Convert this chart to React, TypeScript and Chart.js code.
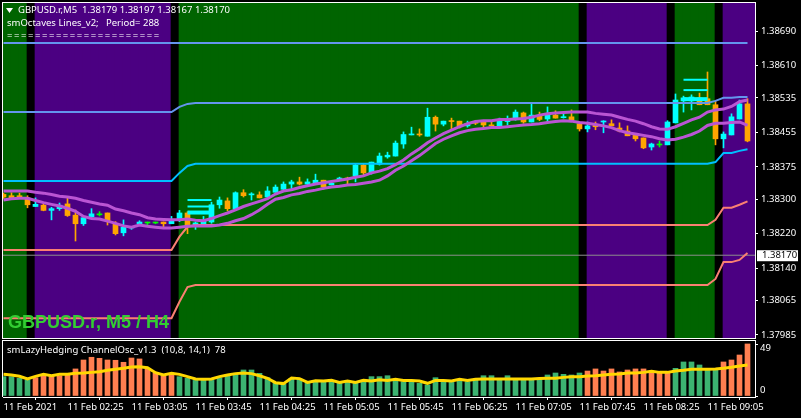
import { useEffect, useRef } from 'react';
import { Chart, registerables } from 'chart.js';

Chart.register(...registerables);

const FONT = '"Noto Sans"';
const FONT_SIZE = 9.5;

// all prices are in points above 1.38000
const opens = [
  311, 308, 308, 303, 283, 286, 274, 278, 289, 263,
  243, 259, 266, 268, 243, 222, 233, 243, 247, 247,
  247, 243, 252, 268, 240, 243, 247, 287, 296, 278,
  315, 310, 310, 305, 316, 323, 335, 340, 335, 335,
  344, 333, 344, 349, 354, 379, 361, 381, 398, 400,
  428, 449, 450, 446, 490, 474, 481, 481, 470, 479,
  479, 472, 470, 480, 488, 500, 479, 493, 486, 495,
  489, 491, 475, 463, 472, 479, 475, 465, 458, 449,
  442, 421, 428, 426, 477, 528, 528, 535, 533, 519,
  440, 449, 486, 521,
];
const highs = [
  314, 315, 314, 308, 303, 291, 281, 291, 302, 275,
  261, 278, 271, 268, 248, 252, 235, 250, 247, 247,
  247, 260, 274, 271, 247, 260, 293, 305, 303, 317,
  322, 315, 317, 329, 333, 340, 344, 351, 347, 358,
  344, 342, 351, 351, 381, 381, 386, 407, 409, 435,
  456, 467, 463, 511, 493, 481, 488, 481, 481, 483,
  483, 479, 488, 493, 507, 502, 521, 502, 514, 505,
  502, 507, 479, 479, 479, 482, 484, 477, 470, 449,
  442, 430, 435, 482, 544, 539, 542, 546, 595, 528,
  456, 498, 530, 533,
];
const lows = [
  302, 300, 302, 280, 283, 273, 252, 274, 260, 203,
  239, 256, 261, 240, 217, 215, 230, 240, 240, 243,
  235, 243, 248, 220, 230, 240, 244, 279, 273, 275,
  305, 298, 303, 302, 316, 319, 321, 333, 330, 335,
  323, 333, 344, 334, 340, 356, 358, 379, 395, 400,
  418, 449, 446, 446, 458, 470, 463, 465, 467, 473,
  465, 470, 470, 472, 483, 476, 479, 482, 479, 488,
  488, 482, 458, 456, 461, 454, 470, 456, 447, 435,
  417, 414, 421, 426, 477, 502, 507, 519, 519, 426,
  419, 449, 486, 433,
];
const closes = [
  305, 302, 304, 287, 288, 274, 278, 286, 262, 243,
  257, 266, 266, 250, 220, 235, 235, 247, 247, 247,
  243, 250, 268, 240, 245, 249, 287, 298, 278, 315,
  308, 311, 303, 319, 328, 335, 340, 335, 340, 344,
  328, 337, 349, 346, 379, 361, 386, 400, 402, 430,
  450, 450, 449, 490, 474, 481, 480, 470, 476, 476,
  472, 470, 483, 481, 502, 479, 495, 485, 495, 488,
  491, 484, 463, 470, 468, 481, 470, 458, 447, 440,
  419, 428, 428, 479, 530, 535, 537, 519, 519, 440,
  451, 491, 521, 435,
];

const upperBand = [
  319, 319, 319, 319, 316, 314, 311, 307, 305, 302,
  297, 293, 289, 286, 277, 273, 268, 264, 257, 254,
  253, 252, 252, 254, 251, 250, 255, 262, 268, 275,
  283, 289, 295, 301, 312, 319, 322, 327, 331, 335,
  338, 341, 344, 347, 351, 354, 361, 365, 371, 380,
  391, 405, 417, 431, 442, 452, 460, 468, 475, 480,
  482, 482, 485, 485, 486, 487, 490, 495, 498, 500,
  501, 502, 502, 502, 499, 497, 495, 490, 485, 481,
  475, 468, 463, 462, 468, 476, 484, 490, 502, 507,
  509, 515, 526, 530,
];
const lowerBand = [
  298, 301, 302, 302, 297, 292, 288, 284, 279, 272,
  260, 255, 254, 249, 244, 238, 235, 240, 237, 235,
  233, 233, 235, 237, 238, 238, 238, 240, 244, 250,
  255, 264, 275, 288, 300, 304, 310, 313, 318, 321,
  325, 328, 330, 333, 334, 337, 340, 344, 354, 367,
  377, 389, 401, 415, 429, 439, 447, 454, 459, 462,
  464, 466, 466, 468, 470, 472, 473, 475, 478, 480,
  482, 481, 478, 476, 473, 470, 466, 459, 454, 451,
  448, 445, 440, 437, 439, 444, 450, 458, 471, 476,
  476, 478, 479, 471,
];

const octaveTop = [
  662, 662, 662, 662, 662, 662, 662, 662, 662, 662,
  662, 662, 662, 662, 662, 662, 662, 662, 662, 662,
  662, 662, 662, 662, 662, 662, 662, 662, 662, 662,
  662, 662, 662, 662, 662, 662, 662, 662, 662, 662,
  662, 662, 662, 662, 662, 662, 662, 662, 662, 662,
  662, 662, 662, 662, 662, 662, 662, 662, 662, 662,
  662, 662, 662, 662, 662, 662, 662, 662, 662, 662,
  662, 662, 662, 662, 662, 662, 662, 662, 662, 662,
  662, 662, 662, 662, 662, 662, 662, 662, 662, 662,
  662, 662, 662, 662,
];
const octaveHigh = [
  502, 502, 502, 502, 502, 502, 502, 502, 502, 502,
  502, 502, 502, 502, 502, 502, 502, 502, 502, 502,
  502, 502, 514, 521, 523, 523, 523, 523, 523, 523,
  523, 523, 523, 523, 523, 523, 523, 523, 523, 523,
  523, 523, 523, 523, 523, 523, 523, 523, 523, 523,
  523, 523, 523, 523, 523, 523, 523, 523, 523, 523,
  523, 523, 523, 523, 523, 523, 523, 523, 523, 523,
  523, 523, 523, 523, 523, 523, 523, 523, 523, 523,
  523, 523, 523, 523, 523, 523, 523, 523, 523, 528,
  535, 535, 537, 537,
];
const octaveMid = [
  342, 342, 342, 342, 342, 342, 342, 342, 342, 342,
  342, 342, 342, 342, 342, 342, 342, 342, 342, 342,
  342, 342, 361, 377, 382, 382, 382, 382, 382, 382,
  382, 382, 382, 382, 382, 382, 382, 382, 382, 382,
  382, 382, 382, 382, 382, 382, 382, 382, 382, 382,
  382, 382, 382, 382, 382, 382, 382, 382, 382, 382,
  382, 382, 382, 382, 382, 382, 382, 382, 382, 382,
  382, 382, 382, 382, 382, 382, 382, 382, 382, 382,
  382, 382, 382, 382, 382, 382, 382, 382, 382, 386,
  407, 407, 412, 416,
];
const octaveLow = [
  182, 182, 182, 182, 182, 182, 182, 182, 182, 182,
  182, 182, 182, 182, 182, 182, 182, 182, 182, 182,
  182, 182, 213, 236, 240, 240, 240, 240, 240, 240,
  240, 240, 240, 240, 240, 240, 240, 240, 240, 240,
  240, 240, 240, 240, 240, 240, 240, 240, 240, 240,
  240, 240, 240, 240, 240, 240, 240, 240, 240, 240,
  240, 240, 240, 240, 240, 240, 240, 240, 240, 240,
  240, 240, 240, 240, 240, 240, 240, 240, 240, 240,
  240, 240, 240, 240, 240, 240, 240, 240, 240, 252,
  280, 280, 287, 295,
];
const octaveBottom = [
  24, 24, 24, 24, 24, 24, 24, 24, 24, 24,
  24, 24, 24, 24, 24, 24, 24, 24, 24, 24,
  24, 24, 62, 96, 101, 101, 101, 101, 101, 101,
  101, 101, 101, 101, 101, 101, 101, 101, 101, 101,
  101, 101, 101, 101, 101, 101, 101, 101, 101, 101,
  101, 101, 101, 101, 101, 101, 101, 101, 101, 101,
  101, 101, 101, 101, 101, 101, 101, 101, 101, 101,
  101, 101, 101, 101, 101, 101, 101, 101, 101, 101,
  101, 101, 101, 101, 101, 101, 101, 101, 101, 115,
  154, 154, 159, 175,
];

// 0 green, 1 black, 2 indigo
const zoneStates = [
  0, 0, 0, 1, 2, 2, 2, 2, 2, 2,
  2, 2, 2, 2, 2, 2, 2, 2, 2, 2,
  2, 1, 0, 0, 0, 0, 0, 0, 0, 0,
  0, 0, 0, 0, 0, 0, 0, 0, 0, 0,
  0, 0, 0, 0, 0, 0, 0, 0, 0, 0,
  0, 0, 0, 0, 0, 0, 0, 0, 0, 0,
  0, 0, 0, 0, 0, 0, 0, 0, 0, 0,
  0, 0, 1, 2, 2, 2, 2, 2, 2, 2,
  2, 2, 2, 1, 0, 0, 0, 0, 0, 1,
  2, 2, 2, 2,
];

// short cyan levels: [first bar, last bar, price, width]
const levelMarks = [
  [23, 26, 298, 2],
  [23, 26, 283, 2],
  [23, 26, 269, 4],
  [85, 88, 577, 2],
  [85, 88, 553, 2],
  [85, 88, 532, 4],
];

const oscBars = [
  18.6, 18.6, 17, 15.4, 17.6, 19.5, 19.5, 19.5, 20.2, 26,
  34.6, 37.2, 36.2, 34.6, 34.3, 32.4, 36.5, 35.6, 26, 21.8,
  19.5, 20.2, 18.6, 17, 15, 15, 15, 17.6, 18.9, 20.8,
  25, 25, 21.8, 17.6, 12.2, 11.2, 17, 16.3, 12.2, 13.8,
  13.5, 13.8, 12.5, 13.8, 12.2, 15.4, 18.6, 18.6, 19.5, 15.4,
  13.8, 13.8, 12.2, 10.6, 17.6, 14.4, 13.1, 15.4, 13.8, 15.4,
  19.5, 19.5, 15.4, 19.5, 15.4, 15.4, 15.4, 17, 20.2, 22.1,
  20.8, 20.2, 22.1, 24, 26, 24, 26, 23.1, 25, 26,
  26, 24, 23.4, 22.1, 26.6, 32.7, 32.7, 29.8, 25, 25,
  32.7, 34.6, 39.4, 50,
];
const oscLine = [
  20.8, 20.2, 18.9, 16.3, 18.9, 20.8, 19.5, 20.8, 20.8, 21.8,
  22.1, 22.7, 23.4, 24.7, 25.6, 26.6, 27.9, 28.2, 27.2, 22.4,
  20.2, 21.8, 20.8, 18.6, 16.3, 16, 16.3, 18.6, 20.2, 21.5,
  22.1, 21.5, 19.5, 17, 12.8, 11.9, 17.3, 16.7, 13.1, 14.7,
  14.4, 15, 13.1, 14.4, 13.1, 15, 14.4, 15.7, 15, 16,
  15, 15, 14.4, 12.2, 15, 15, 14.4, 16, 15, 16,
  16.3, 16.3, 16.3, 16.3, 16.3, 16.3, 16.3, 16.7, 17, 17,
  17.9, 18.6, 18.6, 19.2, 19.5, 20.2, 20.8, 21.2, 22.1, 22.1,
  22.7, 23.7, 22.7, 22.7, 24, 24.7, 25.6, 25.6, 25.6, 26,
  26.6, 27.6, 28.8, 29.8,
];
// 0 green, 1 coral
const oscStates = [
  0, 0, 0, 0, 1, 1, 1, 1, 1, 1,
  1, 1, 1, 1, 1, 1, 1, 1, 1, 1,
  1, 1, 0, 0, 0, 0, 0, 0, 0, 0,
  0, 0, 0, 0, 0, 0, 0, 0, 0, 0,
  0, 0, 0, 0, 0, 0, 0, 0, 0, 0,
  0, 0, 0, 0, 0, 0, 0, 0, 0, 0,
  0, 0, 0, 0, 0, 0, 0, 0, 0, 0,
  0, 0, 0, 1, 1, 1, 1, 1, 1, 1,
  1, 1, 1, 1, 0, 0, 0, 0, 0, 0,
  1, 1, 1, 1,
];

const priceTicks = [690, 610, 535, 455, 375, 300, 220, 140, 65, -15];
const oscTicks = [49, 0];
const timeTickBars = [0, 8, 16, 24, 32, 40, 48, 56, 64, 72, 80, 88];
const timeLabels = [
  '11 Feb 2021', '11 Feb 02:25', '11 Feb 03:05', '11 Feb 03:45', '11 Feb 04:25', '11 Feb 05:05',
  '11 Feb 05:45', '11 Feb 06:25', '11 Feb 07:05', '11 Feb 07:45', '11 Feb 08:25', '11 Feb 09:05',
];

const lastPrice = 170;
const PRICE_MIN = -22;
const PRICE_MAX = 755;
const X_MIN = -0.0625;
const X_MAX = 93.9375;
// zones change on a candle's centre, not between candles
const ZONE_SHIFT = 0.4375;

const ZONE_COLORS = ['#006400', '#000000', '#4B0082'];
const CYAN = '#00FFFF';
const ORANGE = '#FFA500';
const LIME = '#00FF00';

const candleColor = (i: number) =>
  closes[i] > opens[i] ? CYAN : closes[i] < opens[i] ? ORANGE : LIME;

const priceLine = (values: number[], color: string, width: number, order: number) => ({
  type: 'line' as const,
  data: values.map((y, x) => ({ x, y })),
  borderColor: color,
  borderWidth: width,
  pointRadius: 0,
  tension: 0,
  order,
});

// chart.js reserves room for half a label at each end, the terminal does not
const dropLabelPadding = (scale: any) => {
  scale.paddingTop = 0;
  scale.paddingBottom = 0;
  scale.paddingLeft = 0;
  scale.paddingRight = 0;
};

const timeScale = (display: boolean) => ({
  type: 'linear' as const,
  display,
  min: X_MIN,
  max: X_MAX,
  offset: false,
  afterBuildTicks: (scale: any) => {
    scale.ticks = timeTickBars.map((value) => ({ value }));
  },
  afterFit: (scale: any) => {
    dropLabelPadding(scale);
    if (display) scale.height = 21;
  },
  grid: { drawOnChartArea: false, color: '#fff', tickLength: 3 },
  border: { color: '#fff', width: 1 },
  ticks: {
    color: '#fff',
    font: { family: FONT, size: FONT_SIZE },
    autoSkip: false,
    maxRotation: 0,
    align: 'start' as const,
    padding: 2,
    callback: (value: any) => timeLabels[timeTickBars.indexOf(value)],
  },
});

const headerPlugin = {
  id: 'header',
  afterDraw(chart: any) {
    const { ctx, scales } = chart;
    ctx.save();
    ctx.fillStyle = '#fff';
    ctx.fillRect(2, 2, 1, 336);
    ctx.fillRect(2, 2, 754, 1);
    ctx.fillRect(2, 338, 754, 1);

    ctx.beginPath();
    ctx.moveTo(6, 8);
    ctx.lineTo(13, 8);
    ctx.lineTo(9.5, 13);
    ctx.closePath();
    ctx.fill();

    ctx.font = `${FONT_SIZE}px ${FONT}`;
    ctx.textBaseline = 'middle';
    ctx.fillText('GBPUSD.r,M5  1.38179 1.38197 1.38167 1.38170', 18, 10.5);
    ctx.fillText('smOctaves Lines_v2;   Period= 288', 7, 23.5);
    ctx.letterSpacing = '1.55px';
    ctx.fillText('======================', 7, 36.5);
    ctx.letterSpacing = '0px';

    ctx.fillStyle = '#32CD32';
    ctx.font = 'bold 18px "Liberation Sans"';
    ctx.fillText('GBPUSD.r, M5 / H4', 8, 323);

    const y = scales.y.getPixelForValue(lastPrice);
    ctx.fillStyle = '#fff';
    ctx.fillRect(757, y - 5, 41, 11);
    ctx.fillStyle = '#000';
    ctx.font = `${FONT_SIZE}px ${FONT}`;
    ctx.fillText((1.38 + lastPrice / 1e5).toFixed(5), 762, y + 0.5);
    ctx.restore();
  },
};

const oscPlugin = {
  id: 'oscText',
  afterDraw(chart: any) {
    const { ctx, scales } = chart;
    ctx.save();
    ctx.fillStyle = '#fff';
    ctx.fillRect(2, 1, 754, 1);
    ctx.fillRect(2, 1, 1, 57);
    ctx.font = `${FONT_SIZE}px ${FONT}`;
    ctx.textBaseline = 'middle';
    ctx.fillText('smLazyHedging ChannelOsc_v1.3  (10,8, 14,1)  78', 7, 11);
    // labels sit just inside the window edge
    ctx.fillText(String(oscTicks[0]), 760, scales.y.getPixelForValue(oscTicks[0]) + 3);
    ctx.fillText(String(oscTicks[1]), 760, scales.y.getPixelForValue(oscTicks[1]) - 6);
    ctx.restore();
  },
};

function PriceChart() {
  const canvasRef = useRef<HTMLCanvasElement | null>(null);

  useEffect(() => {
    if (!canvasRef.current) return;
    const chart = new Chart(canvasRef.current, {
      type: 'bar',
      data: {
        datasets: [
          {
            data: zoneStates.map((_, i) => ({ x: i + ZONE_SHIFT, y: [PRICE_MIN, PRICE_MAX] })),
            backgroundColor: zoneStates.map((s) => ZONE_COLORS[s]),
            barThickness: 8,
            grouped: false,
            order: 10,
          },
          {
            data: opens.map((_, i) => ({ x: i, y: [lows[i], highs[i]] })),
            backgroundColor: opens.map((_, i) => candleColor(i)),
            barThickness: 1,
            grouped: false,
            order: 9,
          },
          {
            data: opens.map((o, i) => ({ x: i, y: [o, closes[i]] })),
            backgroundColor: opens.map((_, i) => candleColor(i)),
            barThickness: 5,
            minBarLength: 1,
            grouped: false,
            order: 8,
          },
          ...levelMarks.map(([from, to, y, width]) => ({
            type: 'line' as const,
            data: [{ x: from, y }, { x: to, y }],
            borderColor: CYAN,
            borderWidth: width,
            pointRadius: 0,
            order: 7,
          })),
          {
            type: 'line' as const,
            data: [{ x: X_MIN, y: lastPrice }, { x: X_MAX, y: lastPrice }],
            borderColor: '#8C8C8C',
            borderWidth: 1,
            pointRadius: 0,
            order: 6,
          },
          priceLine(octaveTop, '#6495ED', 2, 5),
          priceLine(octaveHigh, '#6495ED', 2, 5),
          priceLine(octaveMid, '#00BFFF', 2, 5),
          priceLine(octaveLow, '#FA8072', 2, 5),
          priceLine(octaveBottom, '#FA8072', 2, 5),
          priceLine(upperBand, '#BA55D3', 3, 4),
          priceLine(lowerBand, '#BA55D3', 3, 4),
        ] as any,
      },
      options: {
        responsive: false,
        devicePixelRatio: 1,
        animation: false,
        layout: { padding: { top: 3, left: 3, right: 0, bottom: 1 } },
        plugins: { legend: { display: false }, tooltip: { enabled: false } },
        scales: {
          x: timeScale(false),
          y: {
            position: 'right',
            min: PRICE_MIN,
            max: PRICE_MAX,
            beginAtZero: false,
            afterBuildTicks: (scale: any) => {
              scale.ticks = priceTicks.map((value) => ({ value }));
            },
            afterFit: (scale: any) => {
              dropLabelPadding(scale);
              scale.width = 46;
            },
            grid: { drawOnChartArea: false, color: '#fff', tickLength: 3 },
            border: { color: '#fff', width: 1 },
            ticks: {
              color: '#fff',
              font: { family: FONT, size: FONT_SIZE },
              autoSkip: false,
              padding: 3,
              callback: (value: any) => (1.38 + value / 1e5).toFixed(5),
            },
          },
        },
      } as any,
      plugins: [headerPlugin],
    });
    return () => chart.destroy();
  }, []);

  return (
    <canvas
      ref={canvasRef}
      width={801}
      height={339}
      style={{ position: 'absolute', left: 0, top: 0, display: 'block' }}
    />
  );
}

function OscChart() {
  const canvasRef = useRef<HTMLCanvasElement | null>(null);

  useEffect(() => {
    if (!canvasRef.current) return;
    const chart = new Chart(canvasRef.current, {
      type: 'bar',
      data: {
        datasets: [
          {
            data: oscBars.map((y, x) => ({ x, y })),
            backgroundColor: oscStates.map((s) => (s ? '#FF7F50' : '#3CB371')),
            barThickness: 5,
            grouped: false,
            order: 2,
          },
          {
            type: 'line' as const,
            data: oscLine.map((y, x) => ({ x, y })),
            borderColor: '#FFD700',
            borderWidth: 3,
            pointRadius: 0,
            tension: 0,
            order: 1,
          },
        ] as any,
      },
      options: {
        responsive: false,
        devicePixelRatio: 1,
        animation: false,
        layout: { padding: { top: 2, left: 3, right: 0, bottom: 0 } },
        plugins: { legend: { display: false }, tooltip: { enabled: false } },
        scales: {
          x: timeScale(true),
          y: {
            position: 'right',
            min: -0.96,
            max: 52.84,
            beginAtZero: false,
            afterBuildTicks: (scale: any) => {
              scale.ticks = oscTicks.map((value) => ({ value }));
            },
            afterFit: (scale: any) => {
              dropLabelPadding(scale);
              scale.width = 46;
            },
            grid: { drawOnChartArea: false, color: '#fff', tickLength: 3 },
            border: { color: '#fff', width: 1 },
            ticks: { display: false, autoSkip: false },
          },
        },
      } as any,
      plugins: [oscPlugin],
    });
    return () => chart.destroy();
  }, []);

  return (
    <canvas
      ref={canvasRef}
      width={801}
      height={79}
      style={{ position: 'absolute', left: 0, top: 339, display: 'block' }}
    />
  );
}

export default function App() {
  return (
    <div style={{ position: 'fixed', left: 0, top: 0, width: 801, height: 418, background: '#000' }}>
      <PriceChart />
      <OscChart />
    </div>
  );
}
